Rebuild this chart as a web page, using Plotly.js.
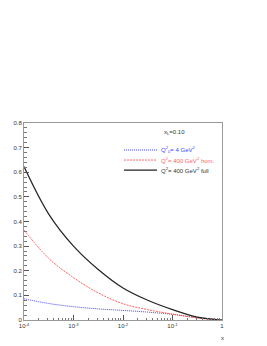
<!DOCTYPE html>
<html><head><meta charset="utf-8">
<script src="https://cdn.plot.ly/plotly-3.0.1.min.js"></script>
<style>html,body{margin:0;padding:0;background:#fff}#c{width:267px;height:346px}</style>
</head><body><div id="c"></div>
<script>
var xVals = [1e-4, 3.16e-4, 1e-3, 3.16e-3, 1e-2, 3.16e-2, 1e-1, 3.16e-1, 1];
var blueVals = [0.086, 0.067, 0.054, 0.045, 0.039, 0.032, 0.023, 0.010, 0.0];
var redVals = [0.366, 0.250, 0.172, 0.110, 0.066, 0.042, 0.024, 0.008, 0.0];
var blackVals = [0.623, 0.430, 0.300, 0.205, 0.130, 0.080, 0.042, 0.012, 0.0];
var seriesNames = ['Q<sup>2</sup><sub>0</sub>= 4 GeV<sup>2</sup>',
                   'Q<sup>2</sup>= 400 GeV<sup>2</sup> hom.',
                   'Q<sup>2</sup>= 400 GeV<sup>2</sup> full'];
var seriesColors = ['#4444ff', '#ff6666', '#222222'];
var seriesDash = ['1px,1px', '2px,1px', 'solid'];
var xTickVals = [1e-4, 1e-3, 1e-2, 1e-1, 1];
var xTickText = ['10<sup>-4</sup>', '10<sup>-3</sup>', '10<sup>-2</sup>', '10<sup>-1</sup>', '1'];
var yTickVals = [0, 0.1, 0.2, 0.3, 0.4, 0.5, 0.6, 0.7, 0.8];
var yTickText = ['0', '0.1', '0.2', '0.3', '0.4', '0.5', '0.6', '0.7', '0.8'];

var series = [blueVals, redVals, blackVals];
var traces = series.map(function (v, i) {
  return {x: xVals, y: v, name: seriesNames[i], mode: 'lines', showlegend: false,
          line: {color: seriesColors[i], width: i === 2 ? 1.2 : 1, dash: seriesDash[i], shape: 'spline'}};
});

var legY = [0.863, 0.812, 0.761];
var shapes = [], annotations = [];
for (var i = 0; i < 3; i++) {
  shapes.push({type: 'line', xref: 'paper', yref: 'paper', x0: 0.505, x1: 0.672, y0: legY[i], y1: legY[i],
               line: {color: seriesColors[i], width: i === 2 ? 1.2 : 1, dash: seriesDash[i]}});
  annotations.push({xref: 'paper', yref: 'paper', x: 0.68, y: legY[i], text: seriesNames[i], showarrow: false,
                    xanchor: 'left', yanchor: 'middle', font: {size: 6, color: i === 2 ? '#333' : seriesColors[i]}});
}
annotations.push({xref: 'paper', yref: 'paper', x: 0.697, y: 0.95, text: 'x<sub>L</sub>=0.10', showarrow: false,
     xanchor: 'left', yanchor: 'middle', font: {size: 6, color: '#333'}});
annotations.push({xref: 'paper', yref: 'paper', x: 1, y: -0.065, text: 'x', showarrow: false,
     xanchor: 'center', yanchor: 'top', font: {size: 6, color: '#333'}});

var layout = {
  width: 267, height: 346,
  margin: {l: 24, r: 45, t: 123, b: 26},
  paper_bgcolor: '#fff', plot_bgcolor: '#fff',
  font: {family: 'Liberation Sans, Arial, sans-serif', size: 6, color: '#333'},
  showlegend: false,
  xaxis: {type: 'log', range: [-4, 0], tickvals: xTickVals, ticktext: xTickText,
          ticks: 'inside', ticklen: 5, tickcolor: '#555', showgrid: false, zeroline: false,
          showline: true, linecolor: '#999', linewidth: 1, mirror: true,
          minor: {ticks: 'inside', ticklen: 2.5, tickcolor: '#777', dtick: 'D1', showgrid: false},
          tickfont: {size: 6, color: '#333'}},
  yaxis: {range: [0, 0.8], tickvals: yTickVals, ticktext: yTickText,
          ticks: 'inside', ticklen: 5, tickcolor: '#555', showgrid: false, zeroline: false,
          showline: true, linecolor: '#999', linewidth: 1, mirror: true,
          minor: {ticks: 'inside', ticklen: 2.5, tickcolor: '#777', dtick: 0.02, showgrid: false},
          tickfont: {size: 6, color: '#333'}},
  shapes: shapes,
  annotations: annotations
};
Plotly.newPlot('c', traces, layout, {displayModeBar: false, staticPlot: true});
</script></body></html>
